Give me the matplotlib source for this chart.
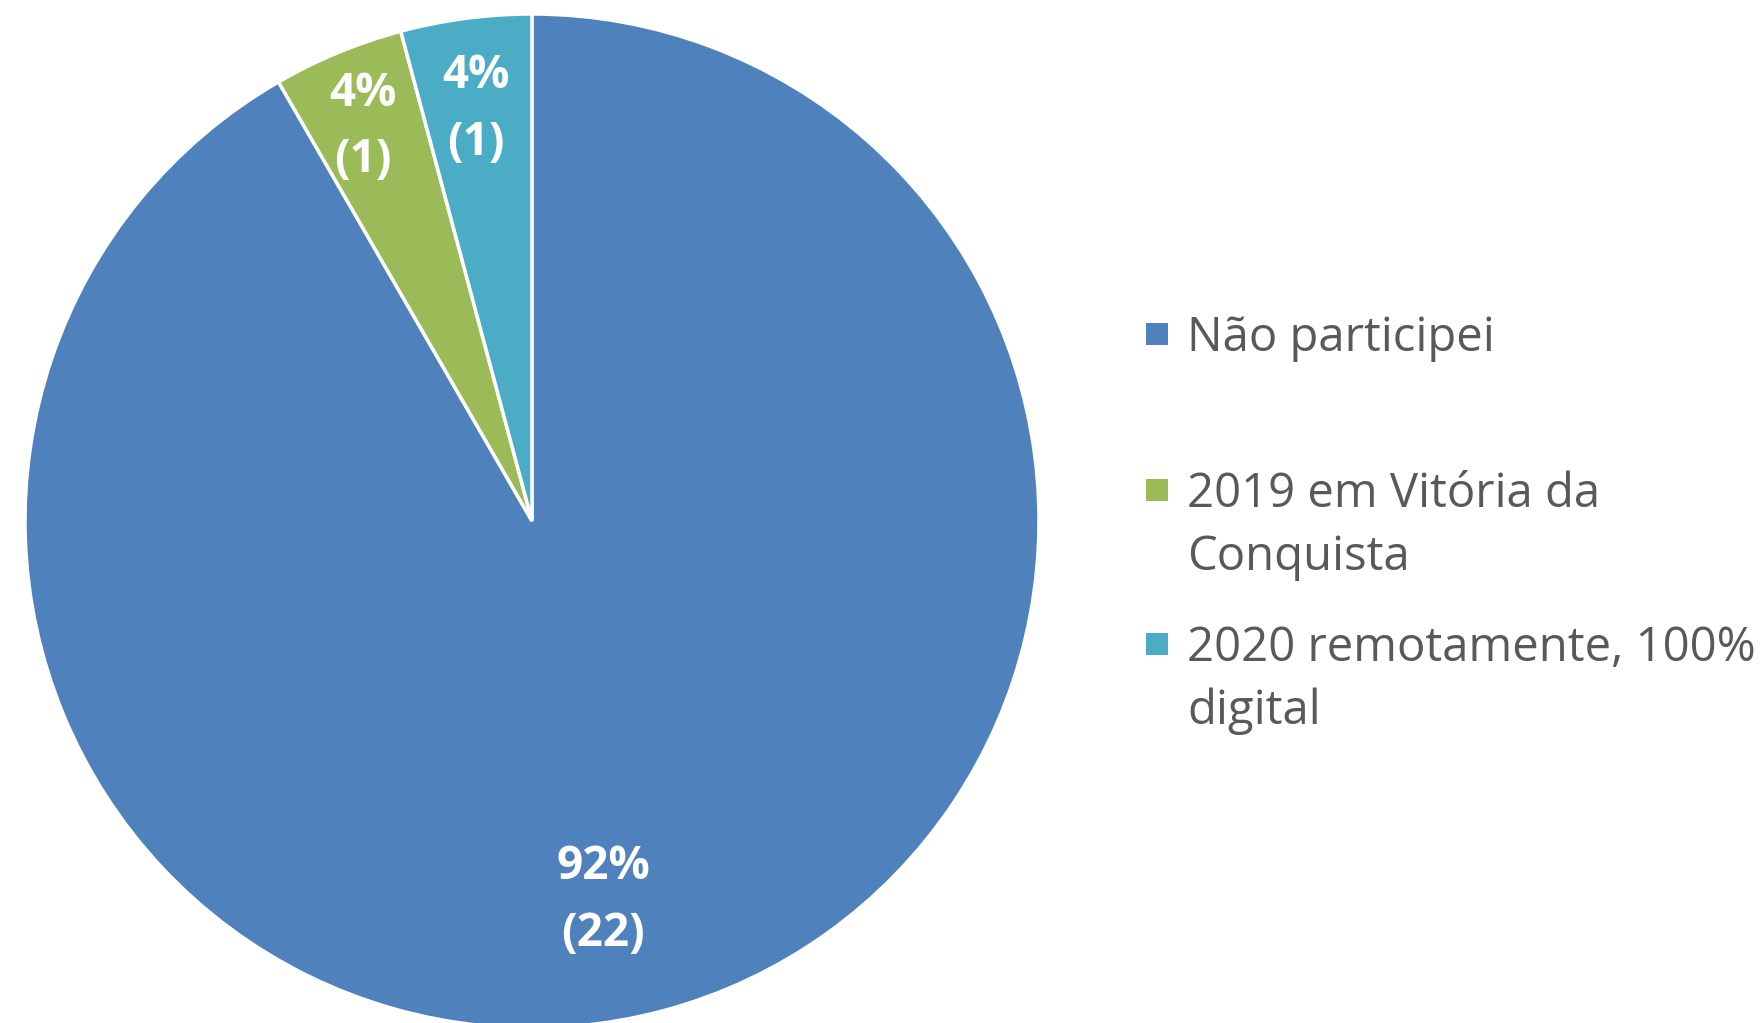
import matplotlib.pyplot as plt
from matplotlib.patches import Rectangle

labels = ['Não participei', '2019 em Vitória da\nConquista', '2020 remotamente, 100%\ndigital']
counts = [22, 1, 1]
colors = ['#4F81BD', '#9BBB59', '#4BACC6']

plt.rcParams['font.family'] = ['Open Sans', 'DejaVu Sans']

fig = plt.figure(figsize=(17.64, 10.23), dpi=100)
W, H = 1764, 1023
cx, cy, r = 532, 521, 507
ax = fig.add_axes([(cx - r) / W, 1 - (cy + r) / H, 2 * r / W, 2 * r / H])

total = sum(counts)


def fmt(p):
    n = round(p * total / 100)
    return f'{p:.0f}%\n({n})'


wedges, texts, autotexts = ax.pie(counts, colors=colors, startangle=90, counterclock=False,
                                  radius=1, wedgeprops=dict(edgecolor='white', linewidth=2.5),
                                  autopct=fmt, pctdistance=0.8,
                                  textprops=dict(color='white', fontsize=33, fontweight='bold',
                                                 linespacing=1.55))
# label spots as Excel puts them (pie units)
label_pos = [(0.141, -0.747), (-0.334, 0.778), (-0.110, 0.812)]
for t, pos in zip(autotexts, label_pos):
    t.set_position(pos)

ax.set_xlim(-1, 1)
ax.set_ylim(-1, 1)
ax.set_aspect('auto')
ax.axis('off')

# legend, drawn by hand to get Excel's spacing
lx_box, lx_text = 1146, 1187
baselines = [351, 507, 661]
line_step = 63
for lab, col, base in zip(labels, colors, baselines):
    fig.patches.append(Rectangle((lx_box / W, 1 - (base - 6) / H), 22 / W, 22 / H,
                                 transform=fig.transFigure, facecolor=col, edgecolor='none'))
    for k, line in enumerate(lab.split('\n')):
        fig.text(lx_text / W, 1 - (base + k * line_step) / H, line, fontsize=34,
                 color='#595959', va='baseline', ha='left')

fig.savefig('out.png', dpi=100)
